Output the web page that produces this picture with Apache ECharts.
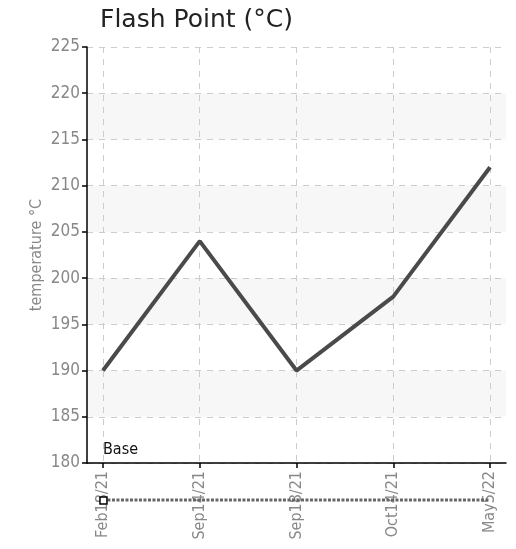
<!DOCTYPE html>
<html><head><meta charset="utf-8">
<script src="https://cdn.jsdelivr.net/npm/echarts@6/dist/echarts.min.js"></script>
<style>html,body{margin:0;padding:0;background:#fff}#c{width:516px;height:549px}</style>
</head><body><div id="c"></div>
<script>
const categories = ['Feb18/21', 'Sep14/21', 'Sep18/21', 'Oct14/21', 'May5/22'];
const flashPoint = [190, 204, 190, 198, 212];
const yTicks = [180, 185, 190, 195, 200, 205, 210, 215, 220, 225];
const baseLabel = 'Base';

const idx = categories.map((_, i) => i);
const chart = echarts.init(document.getElementById('c'));
const narrow = "'DejaVu Sans Condensed', 'Roboto', sans-serif";
chart.setOption({
  animation: false,
  title: {text: 'Flash Point (°C)', left: 95, top: 3,
    textStyle: {fontFamily: 'DejaVu Sans', fontWeight: 'normal', fontSize: 25, color: '#222'}},
  grid: {left: 87, right: 10, top: 47, bottom: 86, containLabel: false},
  xAxis: {
    type: 'value', min: -0.165, max: categories.length - 1 + 0.165,
    axisLine: {onZero: false, lineStyle: {color: '#000', width: 1.5}},
    axisTick: {show: true, customValues: idx, length: 5, inside: false, lineStyle: {color: '#000', width: 1.5}},
    axisLabel: {customValues: idx, rotate: 90, color: '#888', fontSize: 16, fontFamily: narrow, margin: 8,
      formatter: v => categories[Math.round(v)] || ''},
    splitLine: {show: true, lineStyle: {color: '#ccc', type: [6, 6], width: 1}}
  },
  yAxis: {
    type: 'value', min: yTicks[0], max: yTicks[yTicks.length - 1], interval: 5,
    name: 'temperature °C', nameLocation: 'middle', nameGap: 42, nameMoveOverlap: false,
    nameTextStyle: {color: '#888', fontSize: 16, fontFamily: narrow},
    axisLine: {show: true, onZero: false, lineStyle: {color: '#000', width: 1.5}},
    axisTick: {show: true, length: 5, lineStyle: {color: '#000', width: 1.5}},
    axisLabel: {color: '#888', fontSize: 17, fontFamily: narrow, margin: 7},
    splitLine: {show: true, lineStyle: {color: '#ccc', type: [6, 6], width: 1}},
    splitArea: {show: true, areaStyle: {color: ['rgba(0,0,0,0)', '#f7f7f7']}}
  },
  series: [{
    type: 'line', data: flashPoint.map((v, i) => [i, v]), showSymbol: false,
    lineStyle: {color: '#4a4a4a', width: 4}
  }]
});

const p0 = chart.convertToPixel({gridIndex: 0}, [0, yTicks[0]]);
const p1 = chart.convertToPixel({gridIndex: 0}, [categories.length - 1, yTicks[0]]);
const ly = p0[1] + 37;
chart.setOption({
  graphic: [
    {type: 'text', x: p0[0], y: p0[1] - 21, style: {text: baseLabel, fill: '#111', fontSize: 16, fontFamily: narrow}},
    {type: 'line', shape: {x1: p0[0], y1: ly, x2: p1[0], y2: ly},
      style: {stroke: '#666', lineWidth: 3, lineDash: [3, 1.5]}, z: 10},
    {type: 'rect', shape: {x: p0[0] - 3, y: ly - 3, width: 7, height: 7},
      style: {fill: '#fff', stroke: '#000', lineWidth: 1.5}, z: 11}
  ]
});
</script></body></html>
